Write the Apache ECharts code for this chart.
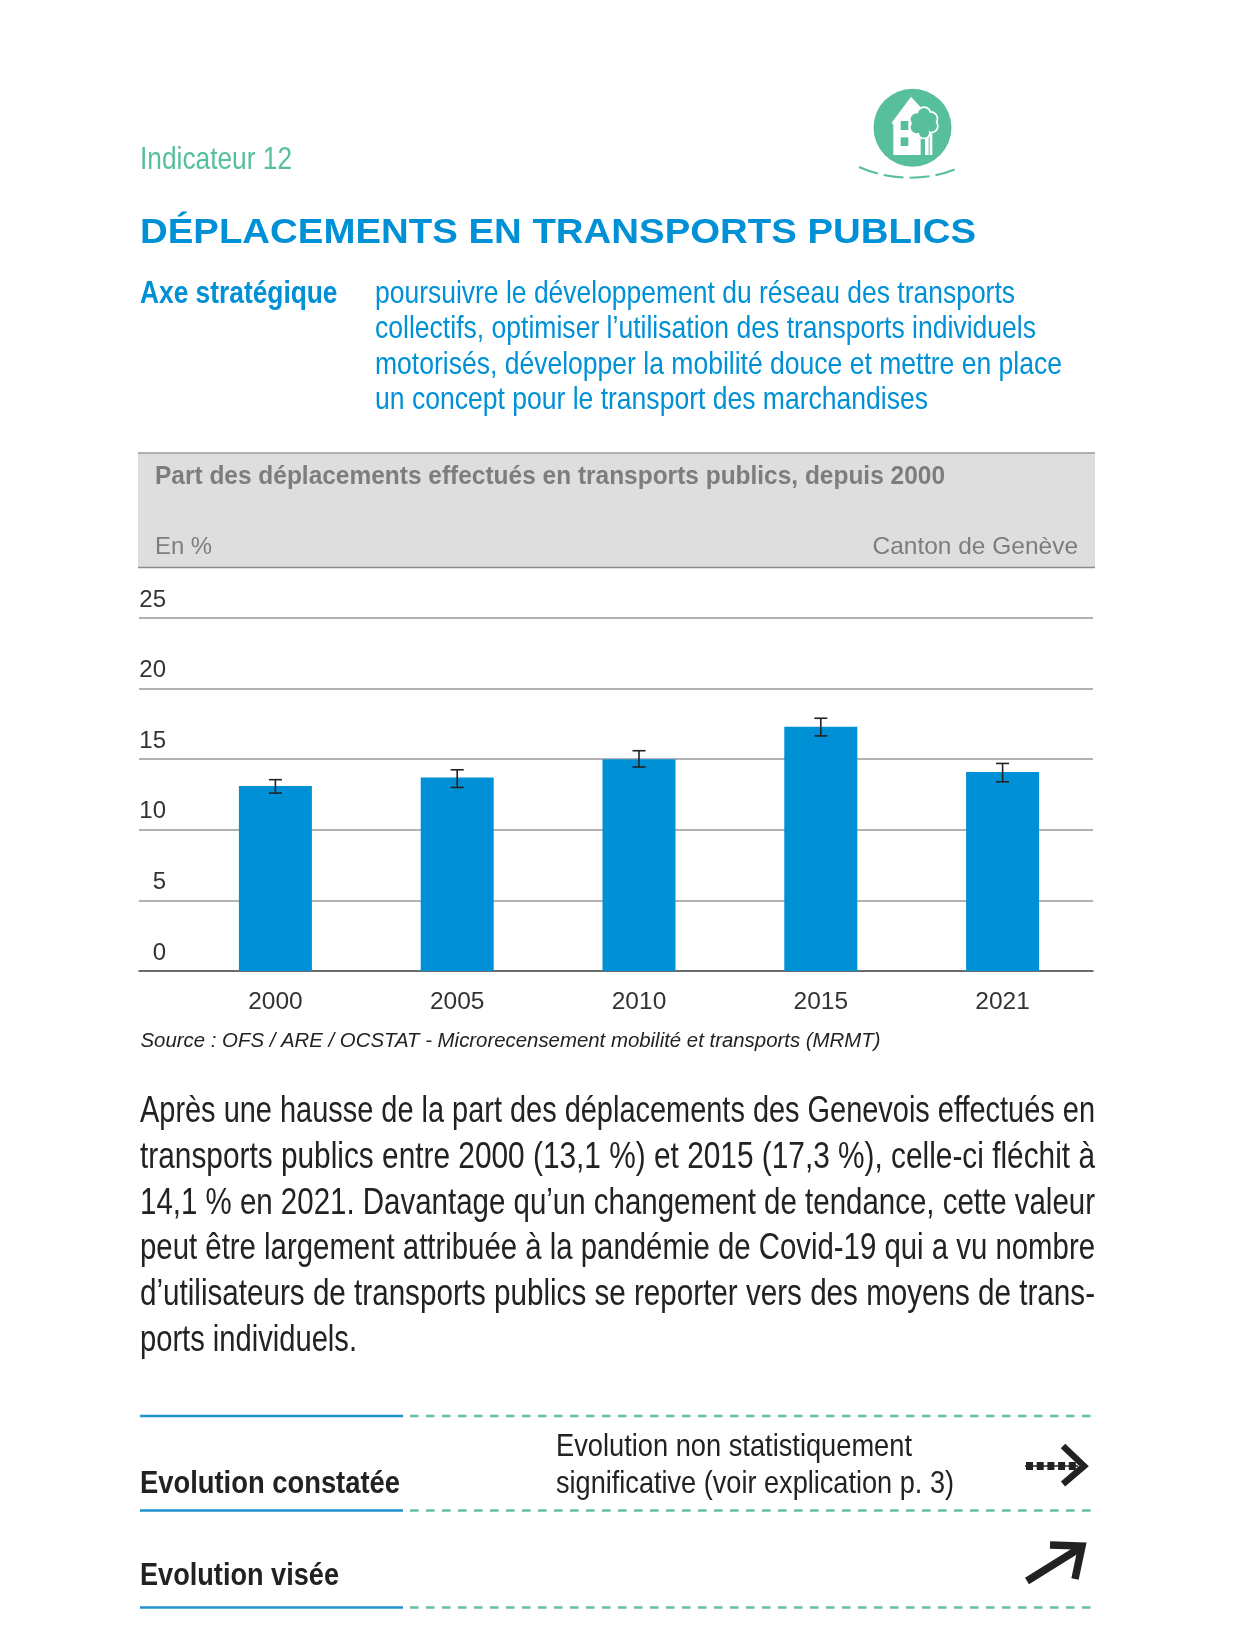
<!DOCTYPE html>
<html lang="fr">
<head>
<meta charset="utf-8">
<title>Déplacements en transports publics</title>
<style>html,body{margin:0;padding:0;background:#fff}#c{width:1236px;height:1631px}</style>
<script src="https://cdn.jsdelivr.net/npm/echarts@6/dist/echarts.min.js"></script>
</head>
<body>
<div id="c"></div>
<script>
const categories = ['2000', '2005', '2010', '2015', '2021'];
const shareValues = [13.1, 13.7, 15.0, 17.3, 14.1];
const errorLow = [12.6, 13.0, 14.45, 16.65, 13.4];
const errorHigh = [13.55, 14.25, 15.6, 17.9, 14.7];

const strategyLines = [
  'poursuivre le développement du réseau des transports',
  'collectifs, optimiser l’utilisation des transports individuels',
  'motorisés, développer la mobilité douce et mettre en place',
  'un concept pour le transport des marchandises'
];
const paragraphLines = [
  'Après une hausse de la part des déplacements des Genevois effectués en',
  'transports publics entre 2000 (13,1 %) et 2015 (17,3 %), celle-ci fléchit à',
  '14,1 % en 2021. Davantage qu’un changement de tendance, cette valeur',
  'peut être largement attribuée à la pandémie de Covid-19 qui a vu nombre',
  'd’utilisateurs de transports publics se reporter vers des moyens de trans-',
  'ports individuels.'
];

const FONT = '"Liberation Sans", Arial, sans-serif';
const BLUE = '#0090d6', GREEN = '#57bf9b', DARK = '#222222', GREY = '#7d7d7d';
const ctx = document.createElement('canvas').getContext('2d');

function fitText(text, x, cy, size, fill, width, opt) {
  opt = opt || {};
  const font = (opt.style || 'normal') + ' ' + (opt.weight || 'normal') + ' ' + size + 'px ' + FONT;
  ctx.font = font;
  const natural = ctx.measureText(text).width;
  const sx = width / natural;
  return {
    type: 'text', x: x, y: cy, scaleX: sx, z: 10, silent: true,
    style: { text: text, x: 0, y: 0, font: font, fill: fill, textAlign: 'left', textVerticalAlign: 'middle' }
  };
}
function rule(x1, x2, y, color, w, dash) {
  return { type: 'line', silent: true, z: 5,
    shape: { x1: x1, y1: y, x2: x2, y2: y },
    style: { stroke: color, lineWidth: w, lineDash: dash || null } };
}
function poly(points, color, w, dash) {
  return { type: 'polyline', silent: true, z: 6, shape: { points: points },
    style: { stroke: color, lineWidth: w, fill: null, lineDash: dash || null, lineJoin: 'miter', lineCap: 'butt' } };
}
function iconX(v) { return 800 + v / 3; }
function iconY(v) { return 70 + v / 3; }
function iconRect(x1, y1, x2, y2, fill) {
  return { type: 'rect', silent: true, z: 8,
    shape: { x: iconX(x1), y: iconY(y1), width: (x2 - x1) / 3, height: (y2 - y1) / 3 }, style: { fill: fill } };
}
function iconCircle(x, y, r, fill, z) {
  return { type: 'circle', silent: true, z: z,
    shape: { cx: iconX(x), cy: iconY(y), r: r / 3 }, style: { fill: fill } };
}

const graphics = [];
// Pictogram
graphics.push({ type: 'circle', silent: true, z: 7, shape: { cx: 912.5, cy: 127.7, r: 39 }, style: { fill: GREEN } });
graphics.push({ type: 'polygon', silent: true, z: 8,
  shape: { points: [[275,158],[333,80],[362,112],[362,255],[280,255],[280,165]].map(p => [iconX(p[0]), iconY(p[1])]) },
  style: { fill: '#fff' } });
graphics.push(iconRect(302, 153, 325, 180, GREEN), iconRect(302, 202, 325, 228, GREEN));
graphics.push(iconRect(375, 190, 386, 255, '#fff'), iconRect(389, 190, 397, 255, '#fff'));
const crown = [[372,132,18],[392,146,18],[350,148,18],[394,168,17],[350,172,18],[372,160,26],[372,188,15]];
crown.forEach(c => graphics.push(iconCircle(c[0], c[1], c[2] + 5, '#fff', 9)));
crown.forEach(c => graphics.push(iconCircle(c[0], c[1], c[2], GREEN, 9.5)));
graphics.push({ type: 'bezierCurve', silent: true, z: 6,
  shape: { x1: 859, y1: 167, cpx1: 890, cpy1: 181, cpx2: 930, cpy2: 181, x2: 958, y2: 168 },
  style: { stroke: GREEN, lineWidth: 2, fill: null, lineDash: [20, 6] } });

// Heading block
graphics.push(fitText('Indicateur 12', 140, 160, 32, GREEN, 152));
graphics.push(fitText('DÉPLACEMENTS EN TRANSPORTS PUBLICS', 140, 233, 34.5, BLUE, 836, { weight: 'bold' }));
graphics.push(fitText('Axe stratégique', 140, 294, 32, BLUE, 197.5, { weight: 'bold' }));
const strategyY = [294, 329, 365, 400], strategyW = [640, 661, 687, 553];
strategyLines.forEach((t, i) => graphics.push(fitText(t, 375, strategyY[i], 32, BLUE, strategyW[i])));

// Chart header band
graphics.push({ type: 'rect', silent: true, z: 1, shape: { x: 138, y: 453, width: 957, height: 114 }, style: { fill: '#dedede' } });
graphics.push(rule(138, 1095, 453, '#9a9a9a', 1.5), rule(138, 1095, 567.5, '#8c8c8c', 1.5));
graphics.push(fitText('Part des déplacements effectués en transports publics, depuis 2000', 155, 477, 25, GREY, 790, { weight: 'bold' }));
graphics.push(fitText('En %', 155, 547.5, 24, GREY, 57));
graphics.push(fitText('Canton de Genève', 872.5, 547.5, 24, GREY, 205.5));
graphics.push(fitText('Source : OFS / ARE / OCSTAT - Microrecensement mobilité et transports (MRMT)', 140.5, 1041, 20, DARK, 740, { style: 'italic' }));

// Commentary
const paraY = [1112, 1158, 1204, 1249, 1295, 1341], paraW = [955, 955, 955, 955, 955, 217];
paragraphLines.forEach((t, i) => graphics.push(fitText(t, 140, paraY[i], 36, DARK, paraW[i])));

// Evolution table
[1416, 1510.5, 1607.5].forEach(y => {
  graphics.push(rule(140, 403, y, '#1f93cf', 2.5));
  graphics.push(rule(410, 1096, y, '#66bfa2', 2.5, [8.5, 7.5]));
});
graphics.push(fitText('Evolution constatée', 140, 1484, 31, DARK, 260, { weight: 'bold' }));
graphics.push(fitText('Evolution non statistiquement', 556, 1447, 32, DARK, 356));
graphics.push(fitText('significative (voir explication p. 3)', 556, 1484, 32, DARK, 398));
graphics.push(fitText('Evolution visée', 140, 1576, 31, DARK, 199, { weight: 'bold' }));
graphics.push(poly([[1025, 1466], [1078, 1466]], DARK, 1.5));
graphics.push(poly([[1026, 1466], [1076, 1466]], DARK, 8, [7, 3.7]));
graphics.push(poly([[1063, 1446], [1084, 1466], [1063, 1484]], DARK, 6.5));
graphics.push(poly([[1027, 1581], [1080, 1548]], DARK, 7.5));
graphics.push(poly([[1050, 1545], [1082, 1546], [1075, 1579]], DARK, 7.5));

const chart = echarts.init(document.getElementById('c'), null, { renderer: 'canvas', width: 1236, height: 1631 });
chart.setOption({
  animation: false,
  backgroundColor: '#fff',
  textStyle: { fontFamily: FONT },
  graphic: { elements: graphics },
  grid: [
    { left: 139, top: 618, width: 954, height: 353 },
    { left: 184.5, top: 618, width: 909, height: 353 }
  ],
  xAxis: [
    { gridIndex: 0, type: 'value', min: 0, max: 1, splitLine: { show: false },
      axisTick: { show: false }, axisLabel: { show: false },
      axisLine: { show: true, onZero: false, lineStyle: { color: '#555', width: 1.5 } } },
    { gridIndex: 1, type: 'category', data: categories,
      axisLine: { show: false }, axisTick: { show: false },
      axisLabel: { color: '#333', fontSize: 24.5, fontFamily: FONT, margin: 19 } }
  ],
  yAxis: [
    { gridIndex: 0, type: 'value', min: 0, max: 25, interval: 5,
      axisLine: { show: false }, axisTick: { show: false },
      splitLine: { show: true, lineStyle: { color: '#999', width: 1.5 } },
      axisLabel: { inside: true, align: 'right', margin: 27, color: '#333', fontSize: 24, fontFamily: FONT,
        verticalAlign: 'bottom', padding: [0, 0, 6, 0],
        showMinLabel: true, showMaxLabel: true } },
    { gridIndex: 1, type: 'value', min: 0, max: 25, interval: 5, show: false }
  ],
  series: [
    { type: 'bar', name: 'Part TP', xAxisIndex: 1, yAxisIndex: 1, data: shareValues, barWidth: 73, z: 3,
      itemStyle: { color: BLUE } },
    { type: 'custom', name: 'Intervalle', xAxisIndex: 1, yAxisIndex: 1, z: 4,
      data: categories.map((c, i) => [i, errorLow[i], errorHigh[i]]),
      encode: { x: 0, y: [1, 2] },
      renderItem: function (params, api) {
        const lo = api.coord([api.value(0), api.value(1)]);
        const hi = api.coord([api.value(0), api.value(2)]);
        const s = { stroke: '#222', lineWidth: 1.6, fill: null };
        return { type: 'group', children: [
          { type: 'line', shape: { x1: lo[0], y1: lo[1], x2: hi[0], y2: hi[1] }, style: s },
          { type: 'line', shape: { x1: lo[0] - 6.5, y1: lo[1], x2: lo[0] + 6.5, y2: lo[1] }, style: s },
          { type: 'line', shape: { x1: hi[0] - 6.5, y1: hi[1], x2: hi[0] + 6.5, y2: hi[1] }, style: s }
        ] };
      } }
  ]
});
</script>
</body>
</html>
